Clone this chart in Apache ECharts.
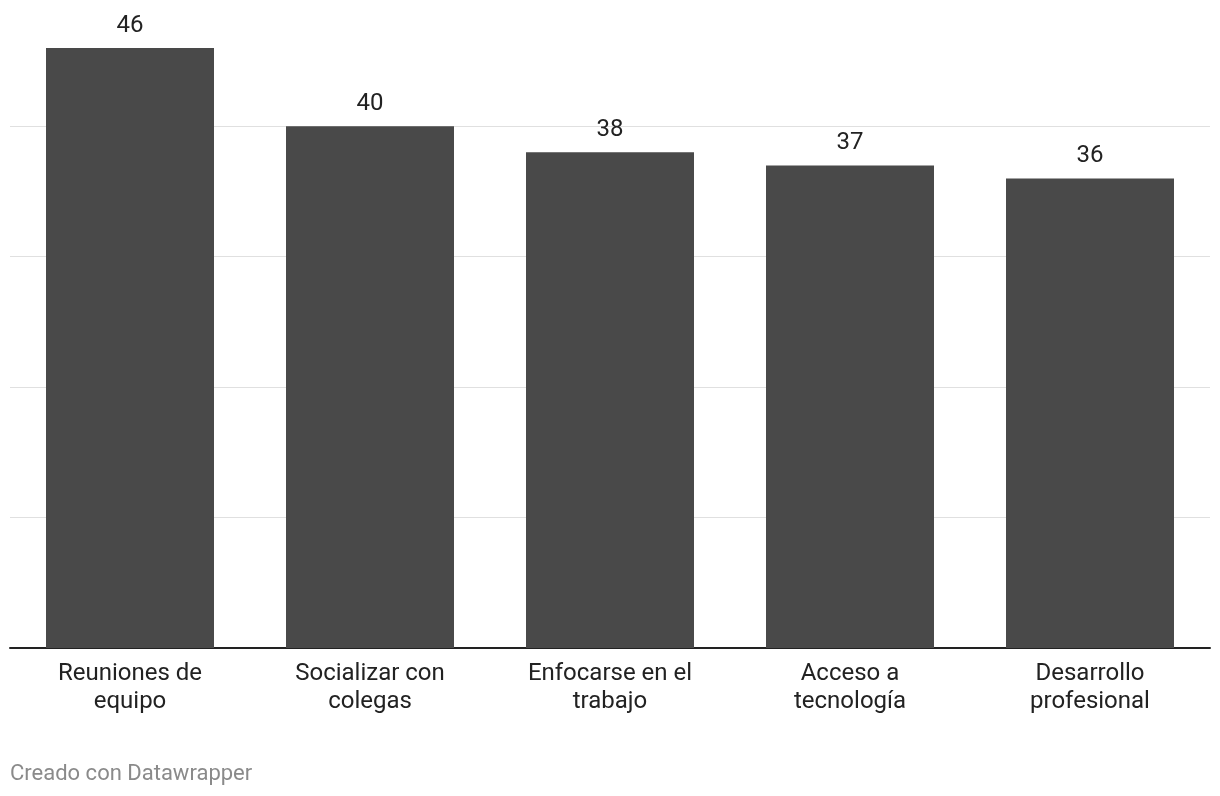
<!DOCTYPE html>
<html>
<head>
<meta charset="utf-8">
<script src="https://cdn.jsdelivr.net/npm/echarts@6/dist/echarts.min.js"></script>
<style>
html,body{margin:0;padding:0;background:#fff;}
#chart{width:1220px;height:796px;}
</style>
</head>
<body>
<div id="chart"></div>
<script>
const categories = ["Reuniones de\nequipo", "Socializar con\ncolegas", "Enfocarse en el\ntrabajo", "Acceso a\ntecnología", "Desarrollo\nprofesional"];
const values = [46, 40, 38, 37, 36];
const yTicks = [0, 10, 20, 30, 40];

const chart = echarts.init(document.getElementById('chart'));
chart.setOption({
  animation: false,
  backgroundColor: '#ffffff',
  textStyle: { fontFamily: 'Roboto' },
  grid: { left: 10, right: 10, top: 48, bottom: 148, containLabel: false },
  xAxis: {
    type: 'category',
    data: categories,
    axisLine: { show: true, lineStyle: { color: '#222222', width: 2 } },
    axisTick: { show: false },
    axisLabel: { color: '#222222', fontSize: 24, lineHeight: 28, margin: 12, fontFamily: 'Roboto', interval: 0 }
  },
  yAxis: {
    type: 'value',
    min: yTicks[0],
    max: 46,
    interval: 10,
    axisLine: { show: false },
    axisTick: { show: false },
    axisLabel: { show: false },
    splitLine: { show: true, showMaxLine: false, lineStyle: { color: '#e0e0e0', width: 1 } }
  },
  series: [{
    type: 'bar',
    data: values,
    barWidth: 168,
    itemStyle: { color: '#494949' },
    label: { show: true, position: 'top', distance: 10, color: '#222222', fontSize: 24, fontFamily: 'Roboto' }
  }],
  graphic: [{
    type: 'text',
    left: 10,
    top: 763,
    style: { text: 'Creado con Datawrapper', fill: '#8a8a8a', fontSize: 22, fontFamily: 'Roboto' }
  }]
});
</script>
</body>
</html>
